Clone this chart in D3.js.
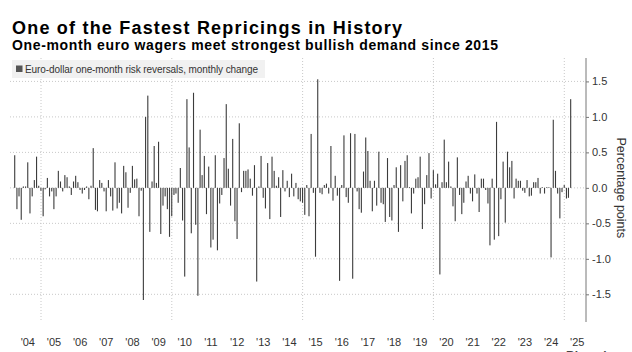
<!DOCTYPE html>
<html>
<head>
<meta charset="utf-8">
<script src="https://cdn.jsdelivr.net/npm/d3@7"></script>
<style>
  body { margin: 0; background: #fff; }
  svg { display: block; }
</style>
</head>
<body>
<svg id="chart" width="632" height="352"></svg>
<script>
// monthly change, first value is Dec 2003, last is Mar 2025
var changes = [
  0.46,
  -0.30, -0.12, -0.45, 0.02, 0.02, 0.36, -0.36, -0.12, 0.11, 0.44, 0.03, -0.04,
  -0.40, -0.02, 0.14, -0.12, -0.05, -0.30, -0.12, 0.24, 0.09, -0.05, 0.18, 0.15,
  0.02, -0.10, 0.09, 0.17, 0.08, -0.03, -0.08, -0.03, 0.02, -0.16, 0.03, 0.56,
  -0.31, -0.33, 0.11, 0.07, -0.05, -0.33, 0.11, -0.12, -0.32, 0.36, -0.29, -0.21,
  -0.36, 0.31, 0.22, -0.28, -0.07, 0.31, 0.12, 0.13, -0.40, -0.04, -1.58, 1.00,
  1.30, -0.62, 0.09, 0.59, 0.07, 0.65, -0.65, -0.25, -0.12, -0.30, -0.69, -0.40,
  -0.10, -0.08, -0.21, 0.28, -0.46, -1.25, 1.25, 0.57, -0.64, 1.34, -0.52, -1.52,
  0.82, 0.18, 0.45, -0.37, 0.30, -0.84, -0.73, 0.46, -0.88, -0.22, -0.10, 0.42,
  1.18, 0.27, -0.25, 0.69, -0.47, -0.72, 0.91, -0.06, 0.24, 0.24, 0.26, 0.13,
  -0.11, 0.32, -1.32, 0.02, 0.45, -0.14, -0.29, 0.35, -0.44, 0.44, 0.24, 0.03,
  0.15, -0.41, 0.25, -0.05, 0.10, -0.13, 0.20, -0.12, 0.07, -0.16, -0.19, -0.21,
  -0.38, 0.04, -0.40, 0.76, -0.07, -0.97, 1.53, -0.07, -0.09, 0.04, 0.06, -0.08,
  0.59, -0.18, 0.17, -0.11, -1.31, 0.04, 0.74, -0.13, -0.21, 0.77, -1.28, 0.76,
  -0.05, -0.30, -0.35, 0.23, 0.71, 0.52, 0.10, -0.33, 0.10, -0.25, 0.51, -0.21,
  -0.23, -0.48, 0.42, -0.41, -0.46, 0.04, 0.29, -0.62, 0.32, -0.19, 0.38, 0.46,
  0.01, -0.36, -0.08, 0.13, 0.15, 0.44, -0.58, -0.23, 0.18, 0.49, -0.15, 0.25,
  0.05, 0.20, -1.22, 0.08, 0.68, 0.08, 0.37, 0.02, -0.26, -0.47, 0.43, -0.10,
  -0.37, -0.21, 0.09, 0.17, -0.08, -0.19, 0.19, -0.08, -0.34, 0.13, 0.13, -0.03,
  -0.22, -0.81, 0.13, -0.73, 0.93, -0.68, -0.16, 0.37, -0.49, 0.51, 0.29, 0.38,
  -0.15, 0.13, 0.10, 0.10, -0.04, -0.07, 0.11, -0.12, -0.11, 0.08, 0.08, 0.14,
  -0.08, 0.01, -0.08, 0.01, 0.01, -0.98, 0.96, 0.24, -0.08, -0.43, -0.06, 0.04,
  -0.15, -0.14, 1.25
];
var firstMonth = new Date(2003, 11, 1);

var yearLabels = ["'04","'05","'06","'07","'08","'09","'10","'11","'12","'13","'14",
                  "'15","'16","'17","'18","'19","'20","'21","'22","'23","'24","'25"];
var labelYears = d3.range(2004, 2026);
var gridYears = [2005, 2010, 2015, 2020, 2025];
var yTicks = [-1.5, -1.0, -0.5, 0.0, 0.5, 1.0, 1.5];

var title = 'One of the Fastest Repricings in History',
    subtitle = 'One-month euro wagers meet strongest bullish demand since 2015',
    legendText = 'Euro-dollar one-month risk reversals, monthly change',
    yTitle = 'Percentage points';

var
  svg = d3.select('#chart'),
  plot = {left: 10, right: 586, top: 58, bottom: 322},
  font = '"Liberation Sans", Arial, sans-serif',
  xScale = d3.scaleTime()
    .domain([new Date(2005, 0, 1), new Date(2025, 0, 1)])
    .range([41, 564.3]),
  yScale = d3.scaleLinear().domain([-1.89, 1.83]).range([plot.bottom, plot.top]),
  // bars sit at month end
  monthEnd = i => d3.timeDay.offset(d3.timeMonth.offset(firstMonth, i + 1), -1),
  data = changes.map((v, i) => ({date: monthEnd(i), value: v}))
  ;

// titles
svg.append('text')
  .text(title)
  .attr('x', 12).attr('y', 34)
  .attr('font-family', font)
  .attr('font-weight', 700)
  .attr('font-size', '18px')
  .attr('textLength', 390)
  .attr('lengthAdjust', 'spacing')
  .attr('fill', '#000');

svg.append('text')
  .text(subtitle)
  .attr('x', 12).attr('y', 50)
  .attr('font-family', font)
  .attr('font-weight', 700)
  .attr('font-size', '14px')
  .attr('textLength', 486)
  .attr('lengthAdjust', 'spacing')
  .attr('fill', '#000');

// gridlines
var grid = svg.append('g').attr('class', 'grid');
grid.selectAll('.hgrid')
  .data(yTicks)
  .enter()
  .append('line')
  .attr('class', 'hgrid')
  .attr('x1', plot.left).attr('x2', plot.right)
  .attr('y1', d => yScale(d)).attr('y2', d => yScale(d))
  .attr('stroke', '#c8c8c8')
  .attr('stroke-dasharray', '1,2');

grid.selectAll('.vgrid')
  .data(gridYears)
  .enter()
  .append('line')
  .attr('class', 'vgrid')
  .attr('x1', d => xScale(new Date(d, 0, 1))).attr('x2', d => xScale(new Date(d, 0, 1)))
  .attr('y1', plot.top).attr('y2', plot.bottom)
  .attr('stroke', '#c8c8c8')
  .attr('stroke-dasharray', '1,2');

// legend
var legend = svg.append('g').attr('class', 'legend');
legend.append('rect')
  .attr('x', 12).attr('y', 60)
  .attr('width', 253).attr('height', 18)
  .attr('fill', '#f1f1f1');
legend.append('rect')
  .attr('x', 16).attr('y', 65.5)
  .attr('width', 6.5).attr('height', 6.5)
  .attr('fill', '#555');
legend.append('text')
  .text(legendText)
  .attr('x', 25).attr('y', 72.5)
  .attr('font-family', font)
  .attr('font-size', '10px')
  .attr('textLength', 233)
  .attr('lengthAdjust', 'spacing')
  .attr('fill', '#333');

// bars
svg.append('g')
  .attr('class', 'bars')
  .selectAll('rect')
  .data(data)
  .enter()
  .append('rect')
  .attr('x', d => xScale(d.date) - 0.55)
  .attr('width', 1.1)
  .attr('y', d => yScale(Math.max(0, d.value)))
  .attr('height', d => Math.abs(yScale(d.value) - yScale(0)))
  .attr('fill', '#3c3c3c');

// y axis on the right
var yAxis = d3.axisRight(yScale)
  .tickValues(yTicks)
  .tickSize(3)
  .tickPadding(3)
  .tickFormat(d => d.toFixed(1));

var ya = svg.append('g')
  .attr('class', 'axis axis--y')
  .attr('transform', 'translate(' + plot.right + ',0)')
  .call(yAxis);
ya.select('.domain').remove();
ya.append('line')
  .attr('x1', 0).attr('x2', 0)
  .attr('y1', plot.top).attr('y2', plot.bottom)
  .attr('stroke', '#777');
ya.selectAll('.tick line').attr('stroke', '#777');
ya.selectAll('.tick text')
  .attr('font-family', font)
  .attr('font-size', '11px')
  .attr('fill', '#333');

svg.append('text')
  .text(yTitle)
  .attr('transform', 'translate(617,' + yScale(0) + ') rotate(90)')
  .attr('text-anchor', 'middle')
  .attr('font-family', font)
  .attr('font-size', '12.5px')
  .attr('fill', '#333');

// x labels, centred on mid-year
svg.append('g')
  .attr('class', 'axis axis--x')
  .selectAll('text')
  .data(labelYears)
  .enter()
  .append('text')
  .text((d, i) => yearLabels[i])
  .attr('x', d => xScale(new Date(d, 6, 1)))
  .attr('y', 346)
  .attr('text-anchor', 'middle')
  .attr('font-family', font)
  .attr('font-size', '11px')
  .attr('fill', '#333');

// source mark, cut by the bottom edge
svg.append('text')
  .text('Bloomberg')
  .attr('x', 566).attr('y', 360)
  .attr('font-family', font)
  .attr('font-weight', 700)
  .attr('font-size', '12px')
  .attr('fill', '#444');
</script>
</body>
</html>
